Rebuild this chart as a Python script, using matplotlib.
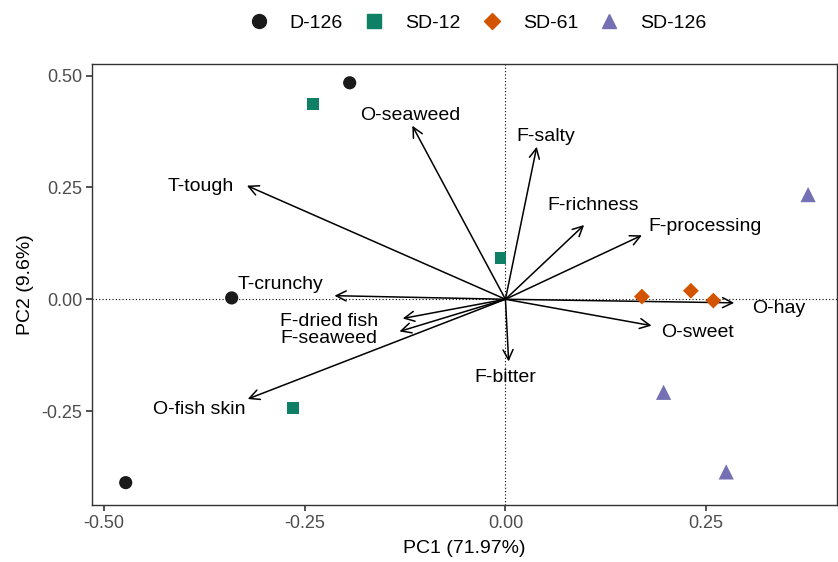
import matplotlib.pyplot as plt
from matplotlib.lines import Line2D

plt.rcParams['font.family'] = ['Liberation Sans', 'DejaVu Sans']

# sample scores (PC1, PC2)
groups = ['D-126', 'SD-12', 'SD-61', 'SD-126']
pc1 = {
    'D-126': [-0.194, -0.341, -0.473],
    'SD-12': [-0.240, -0.006, -0.265],
    'SD-61': [0.170, 0.231, 0.259],
    'SD-126': [0.377, 0.197, 0.275],
}
pc2 = {
    'D-126': [0.484, 0.003, -0.410],
    'SD-12': [0.437, 0.092, -0.243],
    'SD-61': [0.006, 0.019, -0.003],
    'SD-126': [0.234, -0.208, -0.386],
}

# attribute loadings
attrs = ['O-seaweed', 'F-salty', 'T-tough', 'F-richness', 'F-processing', 'T-crunchy',
         'O-hay', 'O-sweet', 'F-dried fish', 'F-seaweed', 'F-bitter', 'O-fish skin']
load1 = [-0.116, 0.039, -0.322, 0.098, 0.170, -0.213, 0.285, 0.182, -0.128, -0.132, 0.004, -0.321]
load2 = [0.388, 0.341, 0.254, 0.166, 0.143, 0.008, -0.008, -0.059, -0.043, -0.072, -0.139, -0.223]
# where the labels sit (data coords)
lab1 = [-0.119, 0.050, -0.379, 0.109, 0.249, -0.280, 0.340, 0.239, -0.220, -0.220, 0.000, -0.381]
lab2 = [0.410, 0.364, 0.253, 0.210, 0.162, 0.033, -0.020, -0.074, -0.050, -0.087, -0.176, -0.247]

colors = {'D-126': '#1A1A1A', 'SD-12': '#0F7F65', 'SD-61': '#D35400', 'SD-126': '#7570B3'}
markers = {'D-126': 'o', 'SD-12': 's', 'SD-61': 'D', 'SD-126': '^'}
msize = {'D-126': 90, 'SD-12': 70, 'SD-61': 65, 'SD-126': 120}

fig = plt.figure(figsize=(8.38, 5.62), dpi=100)
ax = fig.add_axes([92 / 838, 57 / 562, 745 / 838, 441 / 562])

ax.axhline(0, color='black', lw=0.8, ls=(0, (1, 2)), zorder=1)
ax.axvline(0, color='black', lw=0.8, ls=(0, (1, 2)), zorder=1)

for x, y in zip(load1, load2):
    ax.annotate('', xy=(x, y), xytext=(0, 0),
                arrowprops=dict(arrowstyle='->', color='black', lw=1.1,
                                mutation_scale=18, shrinkA=0, shrinkB=0), zorder=2)
for name, x, y in zip(attrs, lab1, lab2):
    ax.text(x, y, name, ha='center', va='center', fontsize=14, color='black', zorder=3)

for g in groups:
    ax.scatter(pc1[g], pc2[g], marker=markers[g], s=msize[g], color=colors[g],
               edgecolors='none', zorder=4)

ax.set_xlim(-0.515, 0.413)
ax.set_ylim(-0.46, 0.526)
ax.set_xticks([-0.50, -0.25, 0.00, 0.25])
ax.set_xticklabels(['-0.50', '-0.25', '0.00', '0.25'])
ax.set_yticks([-0.25, 0.00, 0.25, 0.50])
ax.set_yticklabels(['-0.25', '0.00', '0.25', '0.50'])
ax.tick_params(labelsize=13, colors='#333333', labelcolor='#4D4D4D', length=4, width=1.2, pad=3)
for s in ax.spines.values():
    s.set_color('#333333')
    s.set_linewidth(1.0)
ax.set_xlabel('PC1 (71.97%)', fontsize=14, labelpad=6)
ax.set_ylabel('PC2 (9.6%)', fontsize=14, labelpad=5)

handles = [Line2D([], [], marker=markers[g], color=colors[g], ls='none',
                  markersize=10 if g != 'SD-61' else 8.5) for g in groups]
fig.legend(handles, groups, loc='upper center', bbox_to_anchor=(0.569, 1.006), ncol=4,
           frameon=False, fontsize=14, handlelength=1.2, handletextpad=1.0,
           columnspacing=1.0)

fig.savefig('out.png', dpi=100)
